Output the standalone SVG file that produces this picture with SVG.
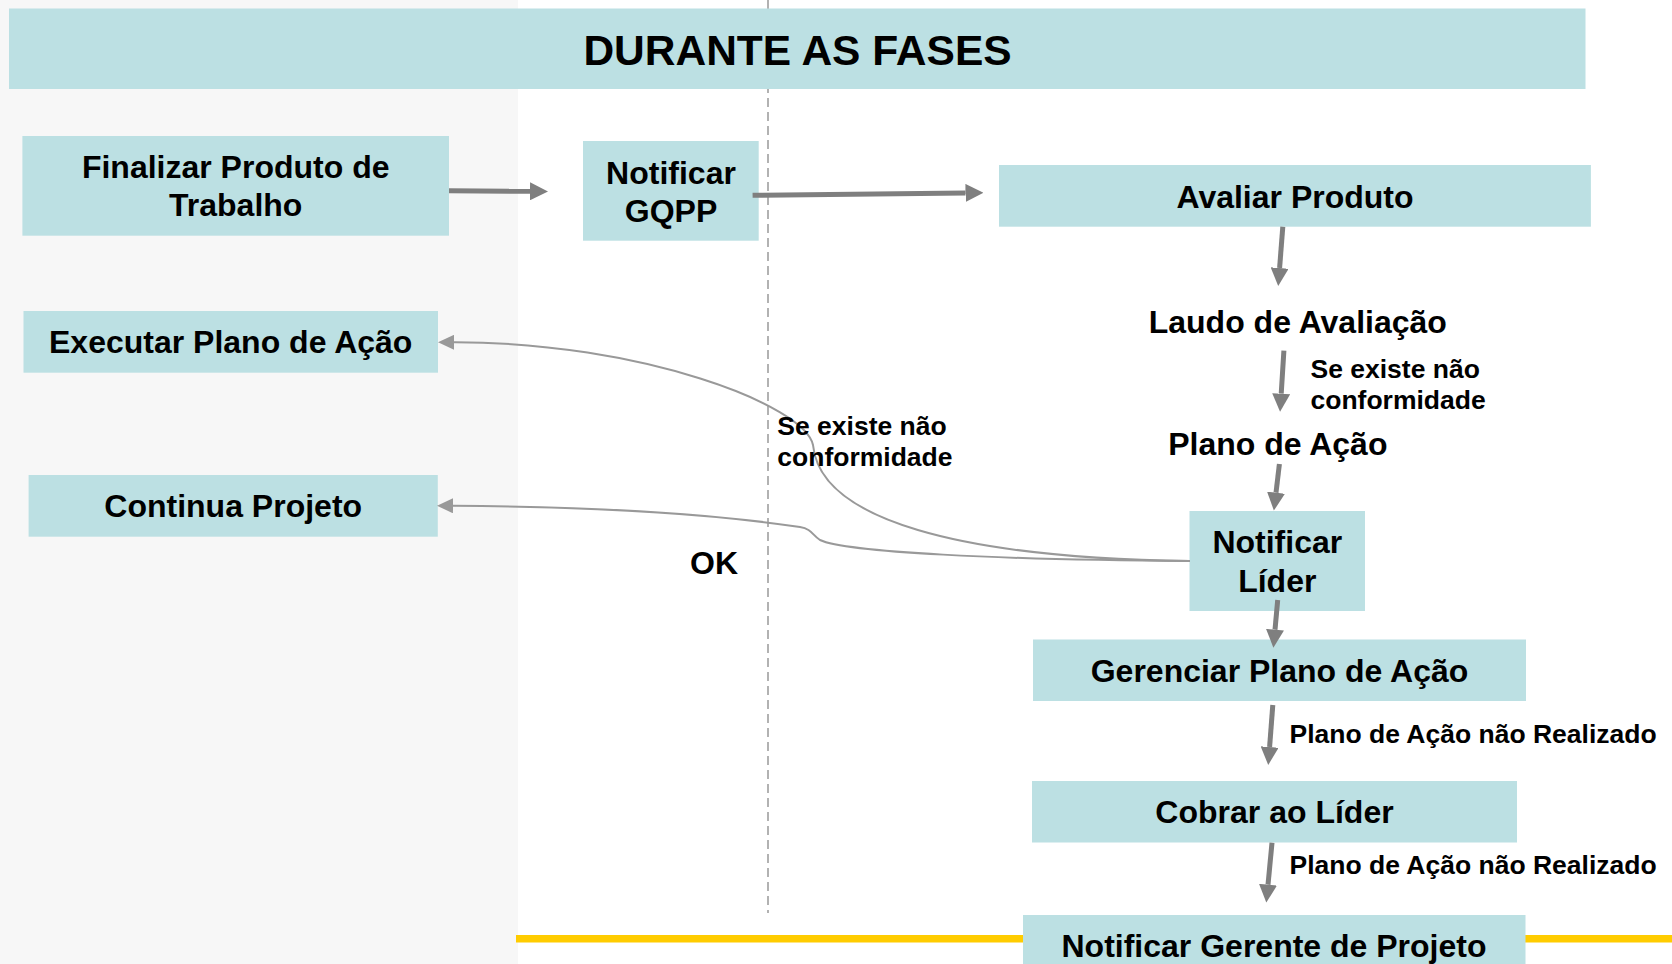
<svg xmlns="http://www.w3.org/2000/svg" width="1672" height="964" viewBox="0 0 1672 964">
<style>
.node rect{fill:#bce0e3;}
.t{font-family:"Liberation Sans",Arial,sans-serif;font-weight:bold;fill:#000;}
.n{font-size:32px;text-anchor:middle;}
.lab{font-size:26.5px;}
.thick{stroke:#7f7f7f;stroke-width:5;fill:none;}
.thin{stroke:#999;stroke-width:2;fill:none;}
</style>
<defs>
<marker id="ah" markerUnits="userSpaceOnUse" markerWidth="18" markerHeight="18" refX="0" refY="9" orient="auto" viewBox="0 0 18 18">
<path d="M0,0 L18,9 L0,18 z" fill="#7f7f7f"/>
</marker>
<marker id="ahs" markerUnits="userSpaceOnUse" markerWidth="16" markerHeight="15" refX="0" refY="7.5" orient="auto" viewBox="0 0 16 15">
<path d="M0,0 L16,7.5 L0,15 z" fill="#999"/>
</marker>
</defs>
<rect x="0" y="0" width="1672" height="964" fill="#fff"/>
<rect x="0" y="0" width="518" height="964" fill="#f7f7f7"/>
<line x1="768" y1="0" x2="768" y2="913" stroke="#999" stroke-width="1.5" stroke-dasharray="9 5"/>
<rect x="516" y="935" width="1156" height="7.5" fill="#ffcc00"/>

<g id="header" class="node">
<rect x="9" y="8.5" width="1576.5" height="80.5"/>
<text class="t" x="797.5" y="64.5" font-size="42.5" text-anchor="middle">DURANTE AS FASES</text>
</g>

<g id="finalizar" class="node">
<rect x="22.4" y="136" width="426.6" height="99.7"/>
<text class="t n" x="235.7" y="177.5">Finalizar Produto de</text>
<text class="t n" x="235.7" y="215.5">Trabalho</text>
</g>
<g id="notificar-gqpp" class="node">
<rect x="583" y="141" width="175.7" height="99.7"/>
<text class="t n" x="671" y="184">Notificar</text>
<text class="t n" x="671" y="221.5">GQPP</text>
</g>
<g id="avaliar" class="node">
<rect x="999" y="165" width="591.9" height="61.7"/>
<text class="t n" x="1295" y="207.5">Avaliar Produto</text>
</g>
<g id="executar" class="node">
<rect x="23.5" y="311" width="414.5" height="61.7"/>
<text class="t n" x="230.7" y="353.3">Executar Plano de Ação</text>
</g>
<g id="continua" class="node">
<rect x="28.6" y="475" width="409.2" height="61.7"/>
<text class="t n" x="233.2" y="517.3">Continua Projeto</text>
</g>
<g id="laudo">
<text class="t n" x="1297.8" y="332.7">Laudo de Avaliação</text>
</g>
<g id="plano">
<text class="t n" x="1277.8" y="454.5">Plano de Ação</text>
</g>
<g id="notificar-lider" class="node">
<rect x="1189.5" y="511" width="175.5" height="100"/>
<text class="t n" x="1277.3" y="553.3">Notificar</text>
<text class="t n" x="1277.3" y="591.8">Líder</text>
</g>
<g id="gerenciar" class="node">
<rect x="1033" y="639.5" width="493" height="61.5"/>
<text class="t n" x="1279.5" y="682">Gerenciar Plano de Ação</text>
</g>
<g id="cobrar" class="node">
<rect x="1032" y="781" width="485" height="61.5"/>
<text class="t n" x="1274.5" y="823">Cobrar ao Líder</text>
</g>
<g id="notificar-gerente" class="node">
<rect x="1023" y="915" width="502.5" height="60"/>
<text class="t n" x="1274" y="957">Notificar Gerente de Projeto</text>
</g>

<g id="connectors">
<line class="thick" x1="449" y1="190.8" x2="530" y2="191.3" marker-end="url(#ah)"/>
<line class="thick" x1="752.6" y1="195.3" x2="965.5" y2="192.9" marker-end="url(#ah)"/>
<line class="thick" x1="1282.8" y1="226.7" x2="1279.6" y2="268" marker-end="url(#ah)"/>
<line class="thick" x1="1283.9" y1="350.7" x2="1281.2" y2="393.7" marker-end="url(#ah)"/>
<line class="thick" x1="1279.4" y1="464" x2="1276" y2="492.7" marker-end="url(#ah)"/>
<line class="thick" x1="1277.7" y1="600" x2="1275" y2="629.7" marker-end="url(#ah)"/>
<line class="thick" x1="1272.8" y1="705" x2="1269.6" y2="747" marker-end="url(#ah)"/>
<line class="thick" x1="1272" y1="842.7" x2="1268" y2="884.7" marker-end="url(#ah)"/>
<path class="thin" d="M1190,561 C960,558 820,520 813,445 C805,405 640,342 454,342.3" marker-end="url(#ahs)"/>
<path class="thin" d="M1190,561 C1000,560 845,552 820,540 C812,535 812,529 800,527 C740,518 640,507 453,505.8" marker-end="url(#ahs)"/>
<text class="t lab" x="777.3" y="434.5">Se existe não</text>
<text class="t lab" x="777.3" y="465.5">conformidade</text>
<text class="t n" x="714" y="574">OK</text>
<text class="t lab" x="1310.5" y="377.5">Se existe não</text>
<text class="t lab" x="1310.5" y="408.5">conformidade</text>
<text class="t lab" x="1289.5" y="743">Plano de Ação não Realizado</text>
<text class="t lab" x="1289.5" y="873.5">Plano de Ação não Realizado</text>
</g>
</svg>
